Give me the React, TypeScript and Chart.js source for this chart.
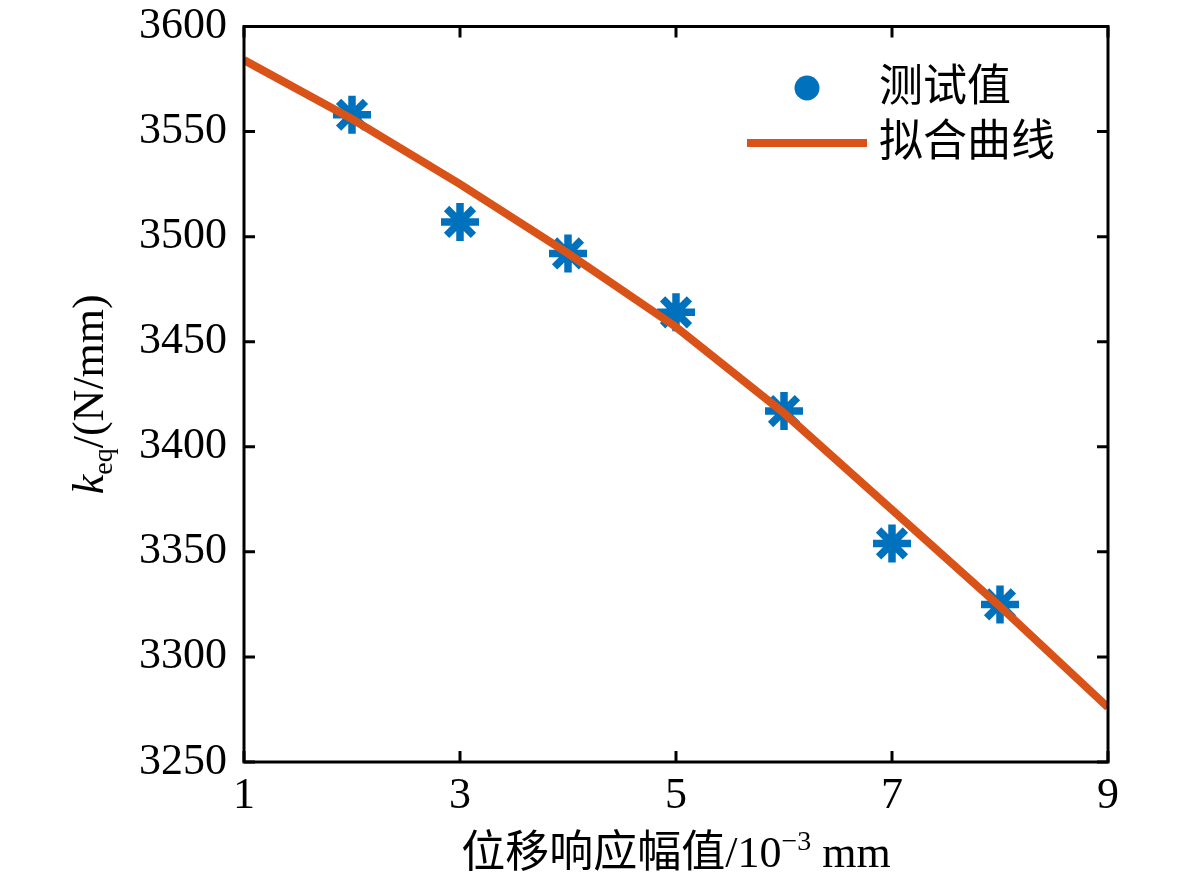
import { useEffect, useRef } from 'react'
import Chart from 'chart.js/auto'

// measured points (test values)
const testX = [2, 3, 4, 5, 6, 7, 8]
const testY = [3558, 3507, 3492, 3464, 3417, 3354, 3325]

// fitted curve
const fitX = [1, 2, 3, 4, 5, 6, 7, 8, 9]
const fitY = [3584, 3556, 3525, 3492, 3457, 3416, 3370, 3324, 3276]

const xTicks = [1, 3, 5, 7, 9]
const yTicks = [3250, 3300, 3350, 3400, 3450, 3500, 3550, 3600]

const legendLabels = ['测试值', '拟合曲线']

const BLUE = '#0072BD'
const ORANGE = '#D95319'
const SERIF = "'Liberation Serif', 'Times New Roman', 'Noto Sans CJK SC', serif"
const FS = 44

const framePlugin = {
  id: 'frame',
  afterDraw(chart: any) {
    const { ctx, chartArea: a, scales } = chart
    const x = scales.x
    const y = scales.y
    ctx.save()

    // box and inward ticks on all four sides
    ctx.strokeStyle = '#000'
    ctx.lineWidth = 3
    ctx.strokeRect(a.left, a.top, a.right - a.left, a.bottom - a.top)
    const L = 11
    ctx.beginPath()
    xTicks.forEach((v) => {
      const px = x.getPixelForValue(v)
      ctx.moveTo(px, a.bottom)
      ctx.lineTo(px, a.bottom - L)
      ctx.moveTo(px, a.top)
      ctx.lineTo(px, a.top + L)
    })
    yTicks.forEach((v) => {
      const py = y.getPixelForValue(v)
      ctx.moveTo(a.left, py)
      ctx.lineTo(a.left + L, py)
      ctx.moveTo(a.right, py)
      ctx.lineTo(a.right - L, py)
    })
    ctx.stroke()

    // legend
    ctx.fillStyle = BLUE
    ctx.beginPath()
    ctx.arc(807, 88, 12.5, 0, Math.PI * 2)
    ctx.fill()
    ctx.strokeStyle = ORANGE
    ctx.lineWidth = 8
    ctx.beginPath()
    ctx.moveTo(747, 143)
    ctx.lineTo(867, 143)
    ctx.stroke()
    ctx.fillStyle = '#000'
    ctx.font = `${FS}px ${SERIF}`
    ctx.textBaseline = 'middle'
    ctx.textAlign = 'left'
    ctx.fillText(legendLabels[0], 879, 89)
    ctx.fillText(legendLabels[1], 879, 144)

    // x title: 位移响应幅值/10^-3 mm
    const cx = (a.left + a.right) / 2
    ctx.textBaseline = 'alphabetic'
    const p1 = '位移响应幅值/10'
    const p2 = '−3'
    const p3 = ' mm'
    ctx.font = `${FS}px ${SERIF}`
    const w1 = ctx.measureText(p1).width
    const w3 = ctx.measureText(p3).width
    ctx.font = `28px ${SERIF}`
    const w2 = ctx.measureText(p2).width
    let sx = cx - (w1 + w2 + w3) / 2
    const base = 867
    ctx.font = `${FS}px ${SERIF}`
    ctx.fillText(p1, sx, base)
    sx += w1
    ctx.font = `28px ${SERIF}`
    ctx.fillText(p2, sx, base - 17)
    sx += w2
    ctx.font = `${FS}px ${SERIF}`
    ctx.fillText(p3, sx, base)

    // y title: k_eq/(N/mm)
    const cy = (a.top + a.bottom) / 2
    ctx.translate(88, cy)
    ctx.rotate(-Math.PI / 2)
    ctx.font = `italic ${FS}px ${SERIF}`
    const wk = ctx.measureText('k').width
    ctx.font = `28px ${SERIF}`
    const we = ctx.measureText('eq').width
    ctx.font = `${FS}px ${SERIF}`
    const wr = ctx.measureText('/(N/mm)').width
    let tx = -(wk + we + wr) / 2
    const yb = 15
    ctx.font = `italic ${FS}px ${SERIF}`
    ctx.fillText('k', tx, yb)
    tx += wk
    ctx.font = `28px ${SERIF}`
    ctx.fillText('eq', tx, yb + 9)
    tx += we
    ctx.font = `${FS}px ${SERIF}`
    ctx.fillText('/(N/mm)', tx, yb)

    ctx.restore()
  },
}

export default function App() {
  const chartRef = useRef<HTMLCanvasElement>(null)
  const chartInstance = useRef<Chart | null>(null)

  useEffect(() => {
    document.body.style.margin = '0'
    if (!chartRef.current) return
    if (chartInstance.current) {
      chartInstance.current.destroy()
    }
    const ctx = chartRef.current.getContext('2d')
    if (!ctx) return

    chartInstance.current = new Chart(ctx, {
      type: 'scatter',
      data: {
        datasets: [
          {
            type: 'line',
            label: legendLabels[1],
            data: fitX.map((v, i) => ({ x: v, y: fitY[i] })),
            borderColor: ORANGE,
            borderWidth: 8,
            pointRadius: 0,
            tension: 0,
            order: 1,
          },
          {
            label: legendLabels[0],
            data: testX.map((v, i) => ({ x: v, y: testY[i] })),
            pointStyle: 'star',
            pointRadius: 19,
            pointBorderWidth: 7.5,
            borderColor: BLUE,
            backgroundColor: BLUE,
            order: 2,
          },
        ],
      },
      options: {
        animation: false,
        responsive: true,
        maintainAspectRatio: false,
        layout: { padding: { left: 0, right: 73, top: 23, bottom: 0 } },
        plugins: {
          legend: { display: false },
          tooltip: { enabled: false },
        },
        scales: {
          x: {
            type: 'linear',
            min: 1,
            max: 9,
            afterBuildTicks: (scale: any) => {
              scale.ticks = xTicks.map((v) => ({ value: v }))
            },
            afterFit: (scale: any) => {
              scale.height = 120
              scale.paddingLeft = 0
              scale.paddingRight = 0
            },
            grid: { display: false, drawTicks: false },
            border: { display: false },
            ticks: {
              padding: 8,
              color: '#000',
              font: { family: SERIF, size: FS },
              maxRotation: 0,
              callback: (v: any) => String(v),
            },
          },
          y: {
            type: 'linear',
            min: 3250,
            max: 3600,
            afterBuildTicks: (scale: any) => {
              scale.ticks = yTicks.map((v) => ({ value: v }))
            },
            afterFit: (scale: any) => {
              scale.width = 244
              scale.paddingTop = 0
              scale.paddingBottom = 0
            },
            grid: { display: false, drawTicks: false },
            border: { display: false },
            ticks: {
              padding: 17,
              color: '#000',
              font: { family: SERIF, size: FS },
              callback: (v: any) => String(v),
            },
          },
        },
      },
      plugins: [framePlugin],
    })

    return () => {
      if (chartInstance.current) {
        chartInstance.current.destroy()
        chartInstance.current = null
      }
    }
  }, [])

  return (
    <div style={{ width: 1181, height: 882, position: 'relative', background: '#fff' }}>
      <canvas ref={chartRef} />
    </div>
  )
}
